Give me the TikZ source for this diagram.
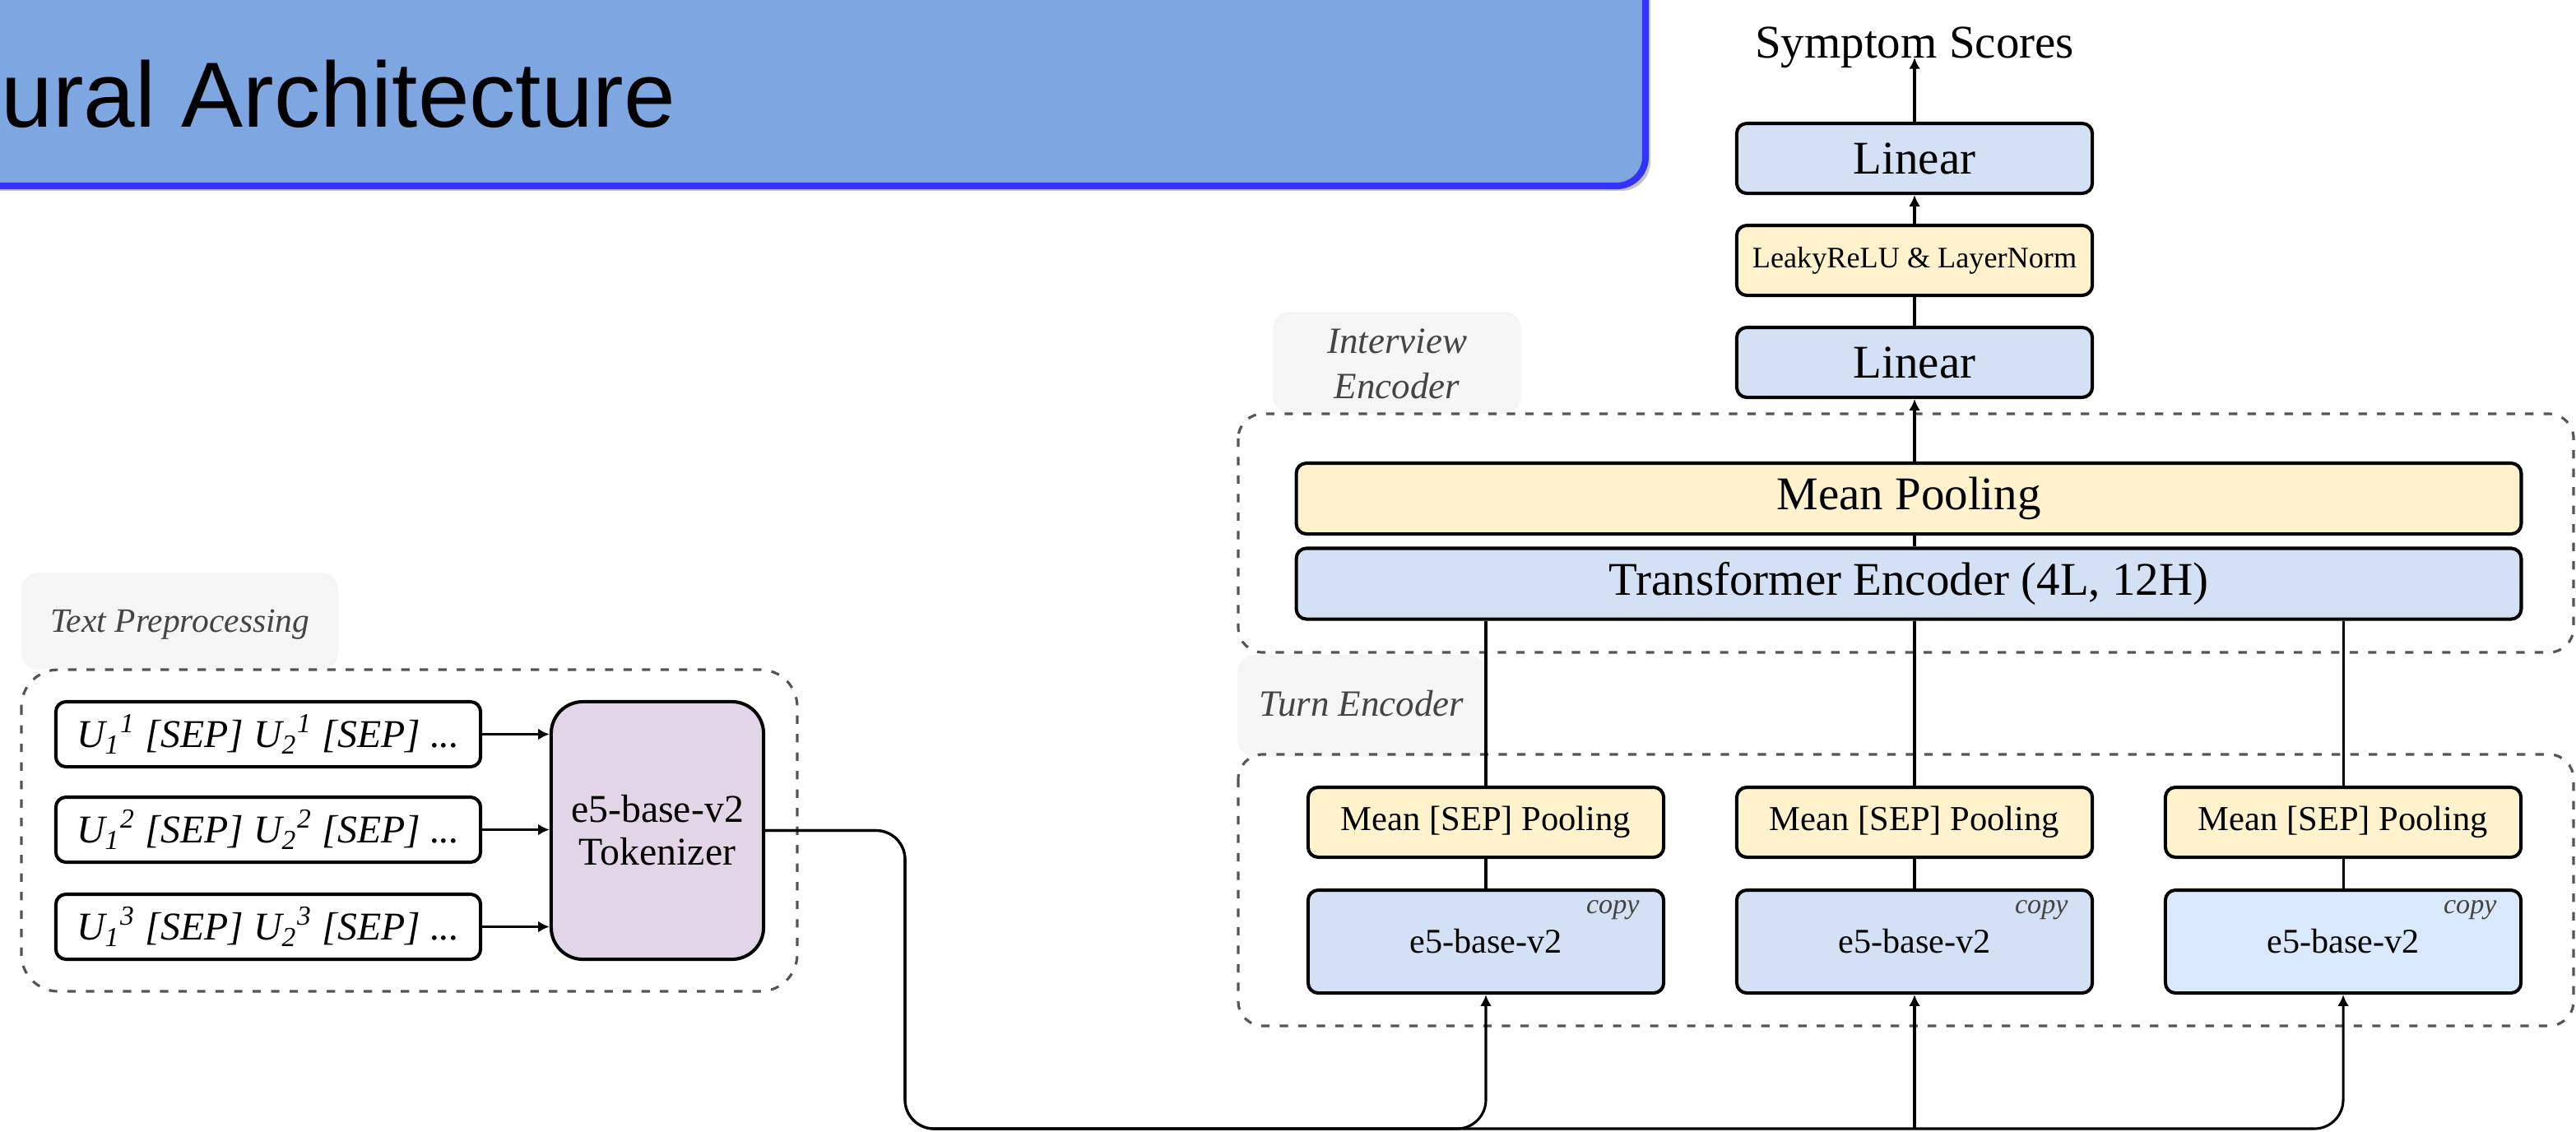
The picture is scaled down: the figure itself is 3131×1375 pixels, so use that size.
\documentclass[tikz,border=0pt]{standalone}
\usepackage{fontspec}
\setmainfont{Liberation Serif}
\newfontfamily\headfont{Liberation Sans}
\usetikzlibrary{arrows.meta}

\definecolor{blueblk}{HTML}{D4E1F5}
\definecolor{blueblkb}{HTML}{DAE8FC}
\definecolor{ylwblk}{HTML}{FFF2CC}
\definecolor{pplblk}{HTML}{E1D5E7}
\definecolor{tagbg}{HTML}{F5F5F5}
\definecolor{tagtx}{HTML}{444444}
\definecolor{dashc}{HTML}{555555}
\definecolor{hdrfill}{HTML}{7EA6E0}
\definecolor{hdrline}{HTML}{3333FF}
\definecolor{hdrshadow}{HTML}{C4C4C4}

\tikzset{
  blockbase/.style={draw=black, line width=1.15pt, rounded corners=3.5pt,
    inner sep=0pt, align=center},
  bigtxt/.style={font=\fontsize{16.2pt}{19.4pt}\selectfont},
  headblk/.style={blockbase, bigtxt, minimum width=4.32cm, minimum height=0.85cm},
  wideblk/.style={blockbase, bigtxt, minimum width=14.88cm, minimum height=0.86cm},
  sepblk/.style={blockbase, fill=ylwblk, minimum width=4.32cm, minimum height=0.85cm,
    font=\fontsize{12.1pt}{14.5pt}\selectfont},
  encblk/.style={blockbase, minimum width=4.32cm, minimum height=1.25cm,
    font=\fontsize{12pt}{14.4pt}\selectfont},
  inblk/.style={blockbase, fill=white, minimum width=5.16cm, minimum height=0.79cm,
    font=\fontsize{13.6pt}{16pt}\selectfont\itshape},
  tokblk/.style={blockbase, fill=pplblk, rounded corners=11pt,
    minimum width=2.58cm, minimum height=3.13cm,
    font=\fontsize{13.6pt}{14.8pt}\selectfont},
  copytag/.style={inner sep=0pt, text=tagtx, font=\fontsize{9.7pt}{11pt}\selectfont\itshape},
  tagtext/.style={inner sep=0pt, text=tagtx, align=center},
  tagpanel/.style={fill=tagbg, draw=none, rounded corners=6pt},
  groupbox/.style={draw=dashc, line width=0.9pt, dash pattern=on 2.9pt off 3.5pt,
    rounded corners=8.5pt},
  link/.style={draw=black, line width=0.88pt},
  flow/.style={link, -{Latex[length=3.9pt,width=3.9pt]}},
}

\begin{document}
\begin{tikzpicture}[x=0.01cm, y=-0.01cm]
\useasboundingbox (0,0) rectangle (3131,1375);
\clip (0,0) rectangle (3131,1375);

% heading banner
\fill[hdrshadow, rounded corners=10pt] (-56,-32) rectangle (2006,232);
\draw[fill=hdrfill, draw=hdrline, line width=2.3pt, rounded corners=10pt]
  (-60,-40) rectangle (2000,226);
\node[anchor=base west, inner sep=0pt, font=\headfont\fontsize{32pt}{38pt}\selectfont]
  (title) at (1,154) {ural Architecture};

% group captions
\fill[tagpanel] (1547,379) rectangle (1849,503);
\node[tagtext, font=\fontsize{12.8pt}{15.6pt}\selectfont\itshape] (tagint) at (1698,442)
  {Interview\\Encoder};
\fill[tagpanel] (1504,796) rectangle (1806,920);
\node[tagtext, font=\fontsize{12.8pt}{15.6pt}\selectfont\itshape] (tagturn) at (1655,855)
  {Turn Encoder};
\fill[tagpanel] (26,696) rectangle (411,814);
\node[tagtext, font=\fontsize{11.8pt}{14pt}\selectfont\itshape] (tagprep) at (219,759)
  {Text Preprocessing};

% dashed groups
\draw[groupbox] (1505,503) rectangle (3128,793);
\draw[groupbox] (1505,917) rectangle (3128,1247);
\draw[groupbox, rounded corners=12.8pt] (26,814) rectangle (969,1205);

% output head
\node (out) [inner sep=0pt, bigtxt, anchor=base] at (2327,70) {Symptom Scores};
\node[headblk, fill=blueblk] (lin2) at (2327,192.5) {Linear};
\node[headblk, fill=ylwblk, font=\fontsize{10.3pt}{12pt}\selectfont] (act) at (2327,316.5)
  {LeakyReLU \& LayerNorm};
\node[headblk, fill=blueblk] (lin1) at (2327,440.5) {Linear};

% interview encoder
\node[wideblk, fill=ylwblk] (mpool) at (2320,606) {Mean Pooling};
\node[wideblk, fill=blueblk] (trf) at (2320,709.5) {Transformer Encoder (4L, 12H)};

% turn encoders
\foreach \i/\cx/\fc in {1/1806/blueblk, 2/2327/blueblk, 3/2848/blueblkb}{
  \node[sepblk] (sep\i) at (\cx,999.5) {Mean [SEP] Pooling};
  \node[encblk, fill=\fc] (enc\i) at (\cx,1144.5) {e5-base-v2};
  \node[copytag, anchor=base east] (cp\i) at ([shift={(-31,31)}]enc\i.north east) {copy};
}

% preprocessing
\node[inblk] (in1) at (326,892.5) {U\textsubscript{1}\textsuperscript{1} [SEP] U\textsubscript{2}\textsuperscript{1} [SEP] ...};
\node[inblk] (in2) at (326,1008.5) {U\textsubscript{1}\textsuperscript{2} [SEP] U\textsubscript{2}\textsuperscript{2} [SEP] ...};
\node[inblk] (in3) at (326,1126.5) {U\textsubscript{1}\textsuperscript{3} [SEP] U\textsubscript{2}\textsuperscript{3} [SEP] ...};
\node[tokblk] (tok) at (799,1009.5) {e5-base-v2\\Tokenizer};

% connectors
\foreach \i in {1,2,3}{
  \draw[flow] (in\i.east) -- (in\i.east -| tok.west);
  \draw[link] (trf.south -| sep\i.north) -- (sep\i.north);
  \draw[link] (sep\i.south) -- (enc\i.north);
}
\draw[link] (trf.north -| lin1.south) -- (mpool.south -| lin1.south);
\draw[flow] (mpool.north -| lin1.south) -- (lin1.south);
\draw[link] (lin1.north) -- (act.south);
\draw[flow] (act.north) -- (lin2.south);
\draw[flow] (lin2.north) -- (out.base);

\coordinate (busturn) at (1100,1372);
\draw[flow, rounded corners=10pt] (tok.east) -| (busturn) -| (enc1.south);
\draw[flow, rounded corners=10pt] (tok.east) -| (busturn) -| (enc3.south);
\draw[flow] (enc2.south |- busturn) -- (enc2.south);
\end{tikzpicture}
\end{document}
